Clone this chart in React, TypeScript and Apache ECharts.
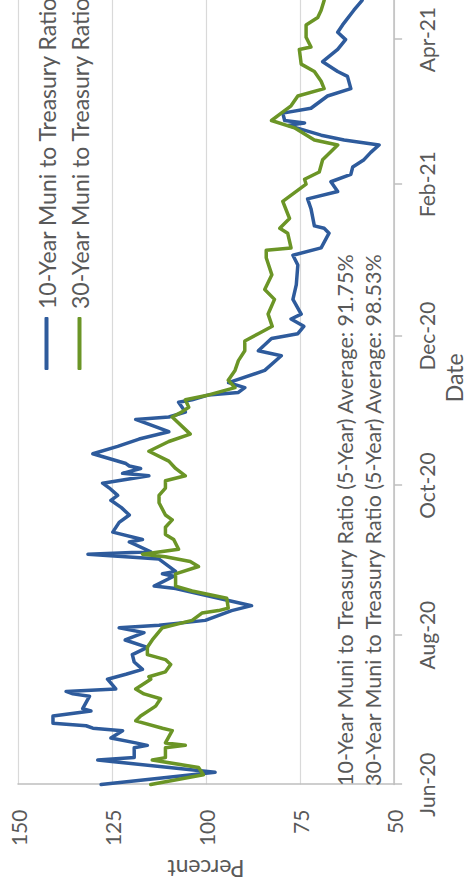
import React, { useEffect, useRef } from "react";
import * as echarts from "echarts";

const legendNames = ["10-Year Muni to Treasury Ratio", "30-Year Muni to Treasury Ratio"];
const averageNotes = [
  "10-Year Muni to Treasury Ratio (5-Year) Average: 91.75%",
  "30-Year Muni to Treasury Ratio (5-Year) Average: 98.53%",
];
const tickDates = ["2020-06-01", "2020-08-01", "2020-10-01", "2020-12-01", "2021-02-01", "2021-04-01"];
const monthNames = ["Jan", "Feb", "Mar", "Apr", "May", "Jun", "Jul", "Aug", "Sep", "Oct", "Nov", "Dec"];

const blueDates = [
  "2020-06-01", "2020-06-06", "2020-06-11", "2020-06-12", "2020-06-16", "2020-06-17", "2020-06-18", "2020-06-20",
  "2020-06-23", "2020-06-24", "2020-06-25", "2020-06-26", "2020-06-29", "2020-07-01", "2020-07-02", "2020-07-07",
  "2020-07-08", "2020-07-09", "2020-07-10", "2020-07-14", "2020-07-16", "2020-07-18", "2020-07-21", "2020-07-24",
  "2020-07-27", "2020-07-30", "2020-08-02", "2020-08-04", "2020-08-05", "2020-08-07", "2020-08-11", "2020-08-13",
  "2020-08-20", "2020-08-21", "2020-08-25", "2020-08-26", "2020-08-27", "2020-09-01", "2020-09-03", "2020-09-04",
  "2020-09-08", "2020-09-09", "2020-09-12", "2020-09-16", "2020-09-19", "2020-09-22", "2020-09-25", "2020-09-27",
  "2020-09-30", "2020-10-02", "2020-10-05", "2020-10-06", "2020-10-08", "2020-10-09", "2020-10-10", "2020-10-14",
  "2020-10-17", "2020-10-20", "2020-10-23", "2020-10-28", "2020-10-29", "2020-10-31", "2020-11-04", "2020-11-05",
  "2020-11-07", "2020-11-08", "2020-11-10", "2020-11-12", "2020-11-17", "2020-11-23", "2020-11-25", "2020-11-30",
  "2020-12-02", "2020-12-05", "2020-12-08", "2020-12-10", "2020-12-16", "2020-12-22", "2020-12-30", "2021-01-03",
  "2021-01-06", "2021-01-12", "2021-01-14", "2021-01-15", "2021-01-22", "2021-01-26", "2021-01-29", "2021-02-02",
  "2021-02-05", "2021-02-08", "2021-02-11", "2021-02-14", "2021-02-17", "2021-02-19", "2021-02-21", "2021-02-25",
  "2021-02-26", "2021-02-27", "2021-03-02", "2021-03-04", "2021-03-09", "2021-03-12", "2021-03-17", "2021-03-19",
  "2021-03-23", "2021-03-28", "2021-04-01", "2021-04-04", "2021-04-07", "2021-04-13", "2021-04-17",
];
const blueValues = [
  127.9, 97.6, 128.8, 119.1, 119.1, 115.6, 118.7, 125.3,
  122.2, 130.1, 131.9, 140.7, 140.7, 130.6, 132.8, 131.0,
  135.4, 137.2, 124.0, 126.2, 121.3, 116.9, 119.1, 119.6,
  115.6, 121.5, 116.5, 123.1, 112.5, 100.2, 93.2, 87.9,
  108.1, 113.8, 108.6, 111.6, 108.1, 112.5, 131.4, 114.7,
  120.4, 116.9, 124.8, 123.1, 120.4, 122.5, 125.3, 123.5,
  125.7, 127.5, 115.2, 122.2, 117.4, 120.4, 121.3, 130.1,
  123.5, 117.8, 109.9, 118.7, 109.9, 105.5, 107.3, 103.7,
  99.3, 91.4, 89.7, 94.0, 84.4, 80.0, 86.1, 82.6,
  75.6, 74.0, 77.4, 74.7, 76.9, 76.0, 75.6, 76.9,
  69.4, 67.3, 68.6, 71.2, 72.1, 73.0, 65.0, 66.8,
  61.5, 61.0, 58.0, 56.2, 54.0, 63.3, 69.4, 78.2,
  73.8, 79.1, 79.6, 72.1, 67.7, 61.5, 62.4, 65.0,
  69.0, 65.0, 62.9, 65.0, 63.7, 60.7, 58.5,
];

const greenDates = [
  "2020-06-01", "2020-06-05", "2020-06-08", "2020-06-11", "2020-06-12", "2020-06-16", "2020-06-17", "2020-06-18",
  "2020-06-23", "2020-06-24", "2020-06-27", "2020-06-29", "2020-07-03", "2020-07-06", "2020-07-08", "2020-07-10",
  "2020-07-14", "2020-07-15", "2020-07-17", "2020-07-20", "2020-07-22", "2020-07-24", "2020-07-27", "2020-07-30",
  "2020-08-04", "2020-08-07", "2020-08-10", "2020-08-11", "2020-08-12", "2020-08-16", "2020-08-19", "2020-08-21",
  "2020-08-26", "2020-08-29", "2020-08-31", "2020-09-02", "2020-09-03", "2020-09-05", "2020-09-09", "2020-09-11",
  "2020-09-14", "2020-09-17", "2020-09-19", "2020-09-24", "2020-09-27", "2020-09-30", "2020-10-03", "2020-10-05",
  "2020-10-08", "2020-10-11", "2020-10-15", "2020-10-19", "2020-10-22", "2020-10-29", "2020-10-31", "2020-11-02",
  "2020-11-05", "2020-11-07", "2020-11-10", "2020-11-13", "2020-11-17", "2020-11-21", "2020-11-25", "2020-11-29",
  "2020-12-02", "2020-12-05", "2020-12-10", "2020-12-16", "2020-12-20", "2020-12-26", "2021-01-02", "2021-01-05",
  "2021-01-06", "2021-01-12", "2021-01-14", "2021-01-18", "2021-01-25", "2021-02-01", "2021-02-03", "2021-02-06",
  "2021-02-11", "2021-02-17", "2021-02-19", "2021-02-24", "2021-02-27", "2021-03-02", "2021-03-05", "2021-03-09",
  "2021-03-12", "2021-03-15", "2021-03-19", "2021-03-22", "2021-03-28", "2021-03-29", "2021-04-02", "2021-04-07",
  "2021-04-10", "2021-04-13", "2021-04-17",
];
const greenValues = [
  114.7, 100.7, 102.0, 114.3, 110.8, 110.8, 105.5, 110.8,
  109.0, 111.6, 118.7, 117.4, 113.4, 112.1, 116.5, 118.7,
  114.7, 115.2, 110.8, 109.4, 110.8, 115.6, 115.6, 114.3,
  111.6, 103.7, 101.1, 96.7, 94.1, 94.5, 103.7, 108.1,
  108.1, 102.0, 104.2, 110.8, 116.9, 107.3, 108.6, 110.8,
  110.8, 109.0, 110.8, 112.5, 112.5, 110.8, 110.8, 105.5,
  108.1, 109.9, 115.2, 109.9, 104.2, 109.0, 106.5, 104.6,
  105.5, 99.3, 92.3, 94.1, 92.3, 91.4, 89.7, 89.7,
  86.1, 82.4, 83.5, 81.8, 84.4, 82.5, 84.0, 84.0,
  77.4, 78.3, 80.4, 77.8, 79.6, 73.4, 73.8, 69.9,
  69.0, 65.0, 71.2, 76.5, 82.6, 80.0, 77.4, 75.6,
  68.6, 69.4, 71.2, 74.7, 75.2, 72.1, 73.4, 73.4,
  70.3, 69.4, 68.6,
];

const yMin = 50;
const yMax = 150;
const yInterval = 25;
const xMinDate = "2020-06-01";
const xMaxDate = "2021-04-29";

const FONT = "Lato";
const TEXT = "#595959";
const BLUE = "#2e5b9c";
const GREEN = "#6b9526";

function toTime(s: string): number {
  const [y, m, d] = s.split("-").map(Number);
  return Date.UTC(y, m - 1, d);
}

export default function App() {
  const ref = useRef<HTMLDivElement>(null);

  useEffect(() => {
    if (!ref.current) return;
    const chart = echarts.init(ref.current, undefined, { renderer: "svg" });
    const ticks = tickDates.map(toTime);
    const option: any = {
      animation: false,
      backgroundColor: "#ffffff",
      grid: { left: 100, top: 18, right: 43, bottom: 73 },
      legend: {
        orient: "vertical",
        left: 513,
        top: 30,
        icon: "roundRect",
        itemWidth: 53,
        itemHeight: 4,
        itemGap: 10,
        textStyle: { fontFamily: FONT, fontSize: 23, color: TEXT, padding: [0, 0, 0, 3] },
        data: legendNames,
      },
      xAxis: {
        type: "value",
        min: toTime(xMinDate),
        max: toTime(xMaxDate),
        name: "Date",
        nameLocation: "middle",
        nameGap: 46,
        nameTextStyle: { fontFamily: FONT, fontSize: 23, color: TEXT },
        axisLine: { show: true, lineStyle: { color: "#bfbfbf", width: 1.5 } },
        axisTick: { show: true, length: 8, lineStyle: { color: "#bfbfbf", width: 1.5 }, customValues: ticks },
        axisLabel: {
          customValues: ticks,
          margin: 22,
          fontFamily: FONT,
          fontSize: 21,
          color: TEXT,
          formatter: (v: number) => {
            const d = new Date(v);
            return monthNames[d.getUTCMonth()] + "-" + String(d.getUTCFullYear()).slice(2);
          },
        },
        splitLine: { show: false },
      },
      yAxis: {
        type: "value",
        min: yMin,
        max: yMax,
        interval: yInterval,
        name: "Percent",
        nameLocation: "middle",
        nameGap: 64,
        nameTextStyle: { fontFamily: FONT, fontSize: 23, color: TEXT },
        axisLine: { show: true, lineStyle: { color: "#bfbfbf", width: 1.5 } },
        axisTick: { show: false },
        axisLabel: { margin: 25, fontFamily: FONT, fontSize: 21, color: TEXT },
        splitLine: { show: true, lineStyle: { color: "#d9d9d9", width: 1.2 } },
      },
      graphic: averageNotes.map((t, i) => ({
        type: "text",
        x: 102,
        y: 345 + i * 28,
        z: 10,
        style: {
          text: t,
          fontFamily: FONT,
          fontSize: 21.5,
          fill: TEXT,
          verticalAlign: "middle",
          align: "left",
        },
      })),
      series: [
        {
          name: legendNames[0],
          type: "line",
          showSymbol: false,
          symbol: "none",
          color: BLUE,
          lineStyle: { width: 3.5, color: BLUE, cap: "round", join: "round" },
          data: blueDates.map((d, i) => [toTime(d), blueValues[i]]),
        },
        {
          name: legendNames[1],
          type: "line",
          showSymbol: false,
          symbol: "none",
          color: GREEN,
          lineStyle: { width: 3.5, color: GREEN, cap: "round", join: "round" },
          data: greenDates.map((d, i) => [toTime(d), greenValues[i]]),
        },
      ],
    };
    chart.setOption(option);
    return () => chart.dispose();
  }, []);

  return (
    <div style={{ position: "absolute", left: 0, top: 0, width: 470, height: 888, overflow: "hidden", background: "#fff" }}>
      <div
        ref={ref}
        style={{
          position: "absolute",
          left: 0,
          top: 0,
          width: 960,
          height: 470,
          transformOrigin: "0 0",
          transform: "translate(0px, 888px) rotate(-90deg)",
        }}
      />
    </div>
  );
}
